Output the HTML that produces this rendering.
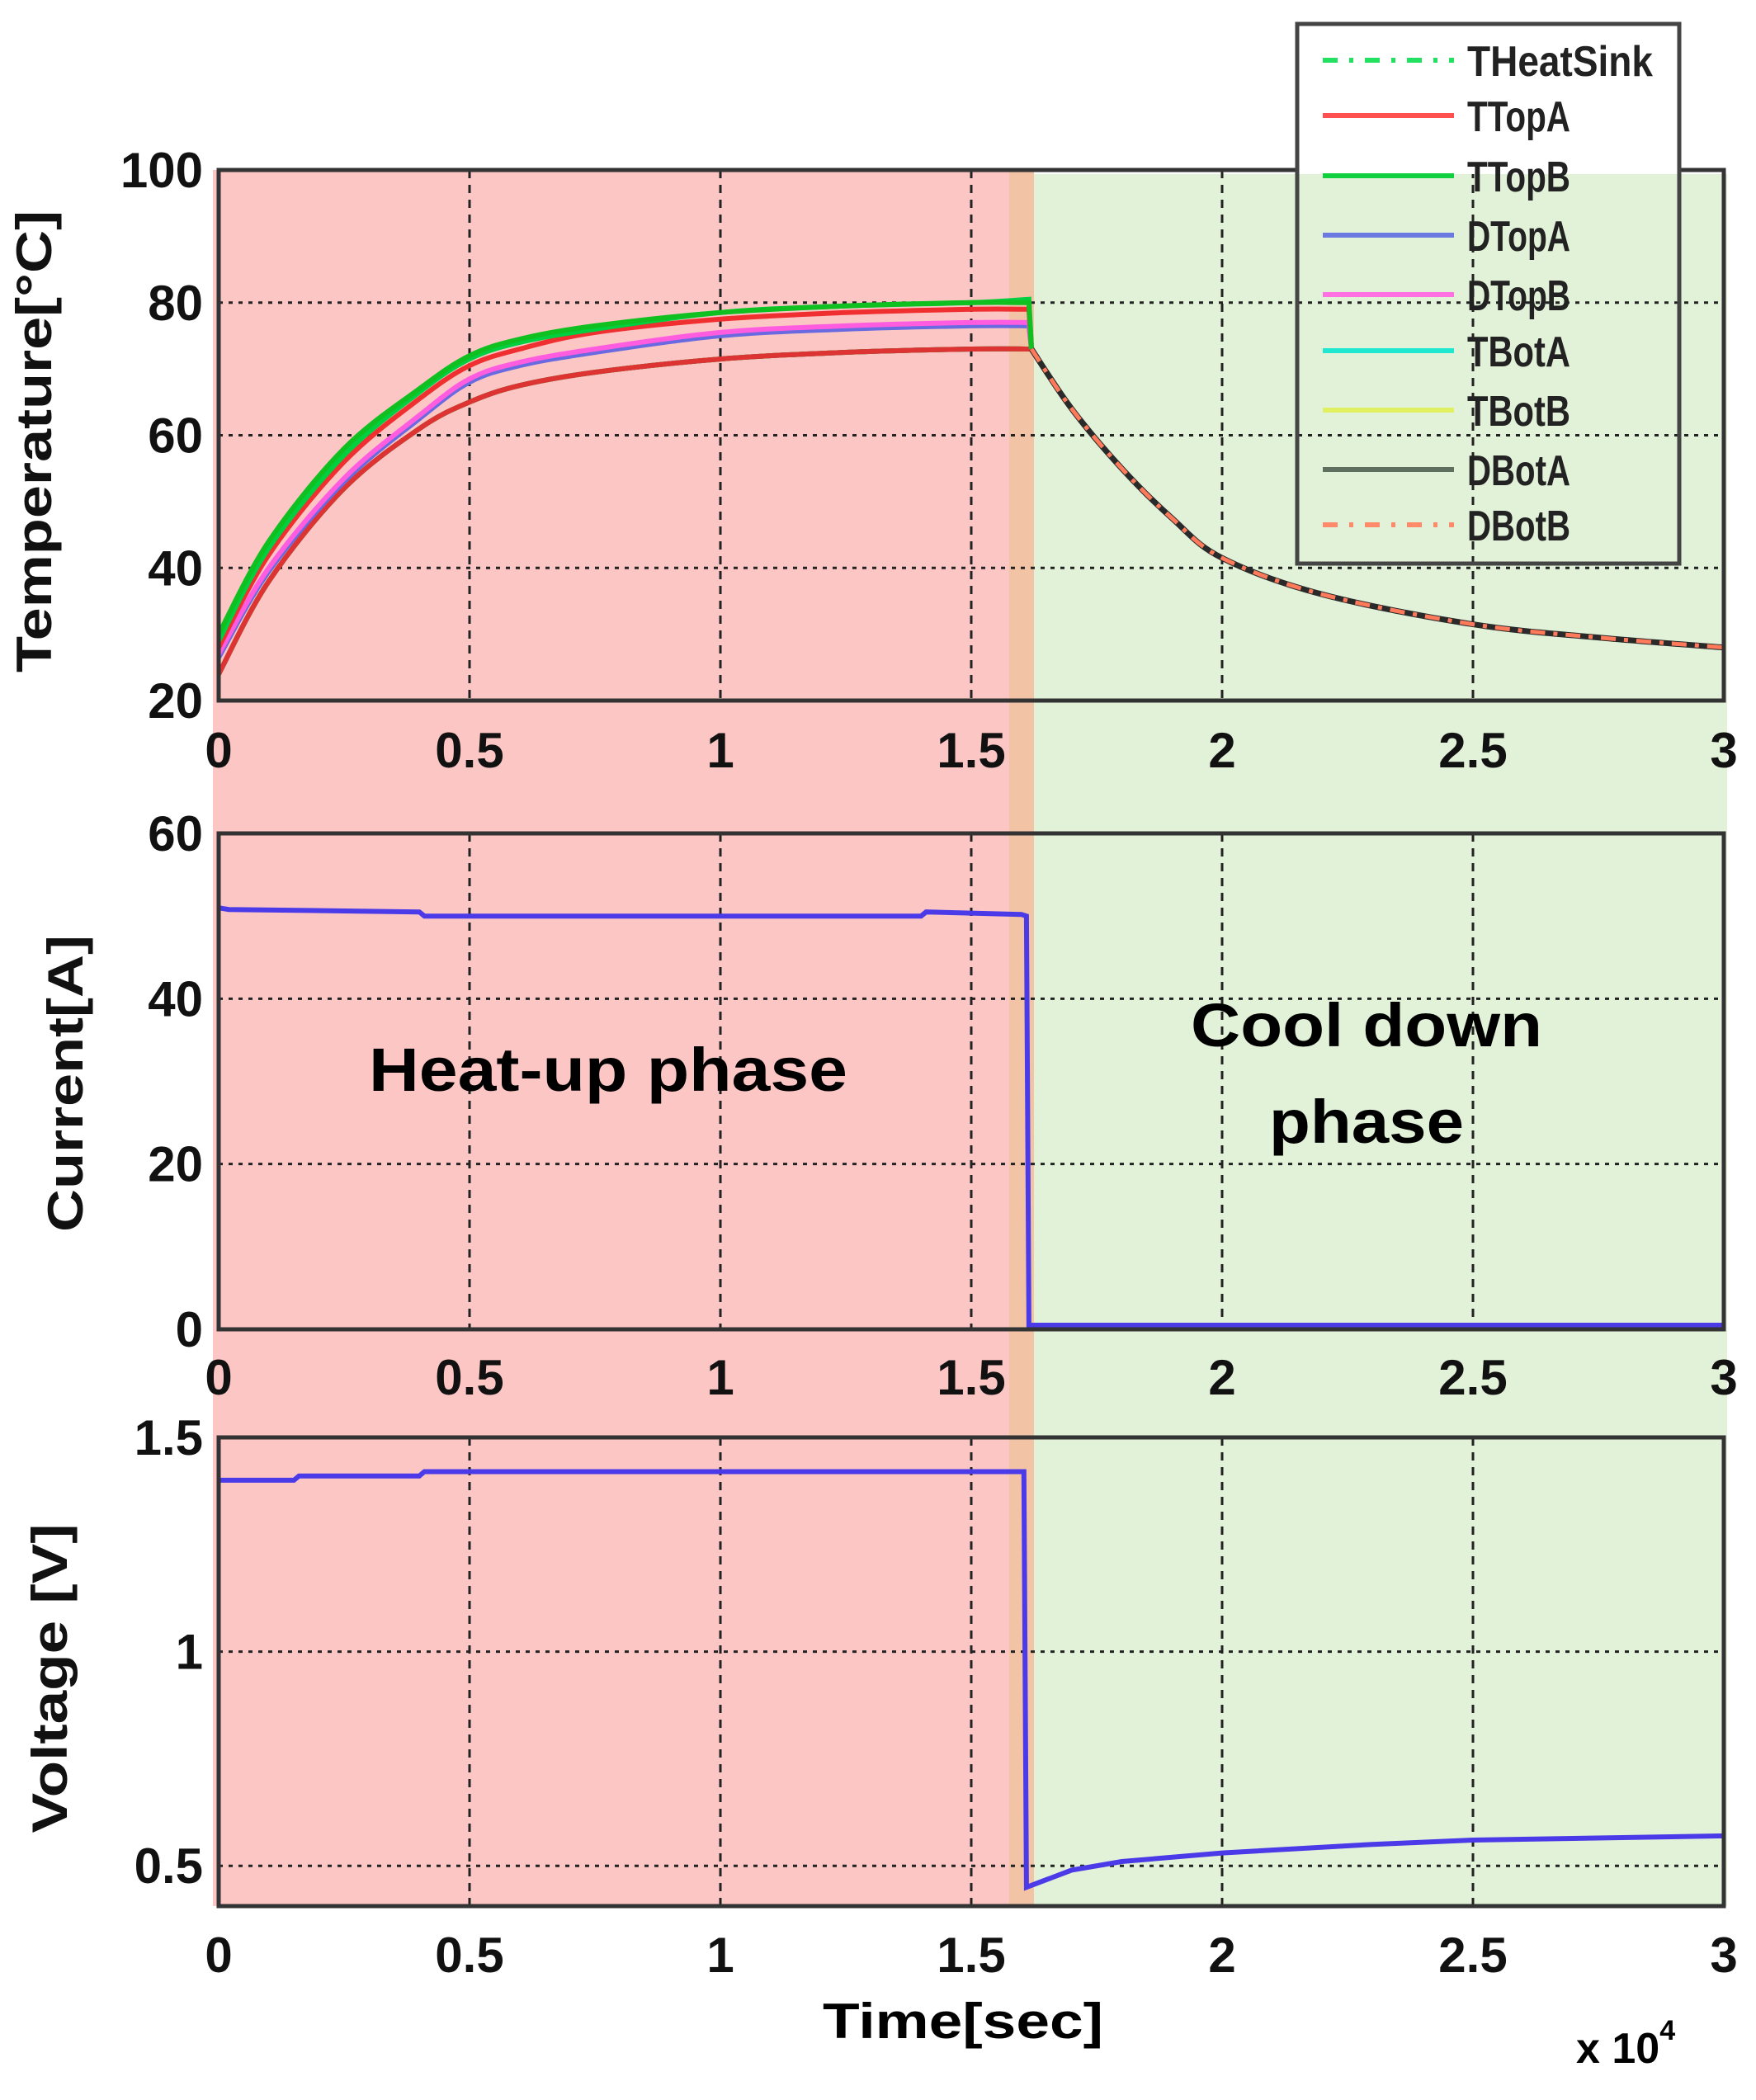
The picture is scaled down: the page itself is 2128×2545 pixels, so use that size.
<!DOCTYPE html>
<html><head><meta charset="utf-8"><style>
html,body{margin:0;padding:0;background:#fff;}
svg{display:block;font-family:"Liberation Sans",sans-serif;font-weight:bold;}
</style></head><body>
<svg id="fig" width="2128" height="2545" viewBox="0 0 2128 2545" xmlns="http://www.w3.org/2000/svg">
<g id="bg"></g>
<g id="plots"></g>
<g id="annot">
<text x="737" y="1322" font-size="74" text-anchor="middle" textLength="580" lengthAdjust="spacingAndGlyphs">Heat-up phase</text>
<text x="1656" y="1268" font-size="74" text-anchor="middle" textLength="426" lengthAdjust="spacingAndGlyphs">Cool down</text>
<text x="1656" y="1385" font-size="74" text-anchor="middle" textLength="236" lengthAdjust="spacingAndGlyphs">phase</text>
<text x="1167" y="2470" font-size="60" text-anchor="middle" textLength="340" lengthAdjust="spacingAndGlyphs">Time[sec]</text>
<text x="1910" y="2500" font-size="52">x 10<tspan font-size="34" dy="-28">4</tspan></text>
</g>
<g id="legend"></g>
</svg>
<script>
// ---- data ----
const timeHeat = [0, 0.1, 0.25, 0.4, 0.5, 0.6, 0.75, 1.0, 1.25, 1.5, 1.615];
const tTopB = [30, 44, 58, 67, 72, 74.5, 76.5, 78.5, 79.5, 80, 80];
const tHeatSink = [29, 43, 57, 66.5, 71.5, 74, 76, 78.5, 79.5, 80, 80.5];
const tTopA = [28, 42, 56, 65.5, 70.5, 73, 75.5, 77.5, 78.5, 79, 79];
const dTopB = [27, 40, 53.5, 63, 68.5, 71, 73, 75.5, 76.5, 77, 77];
const dTopA = [26.5, 39.5, 53, 62.5, 68, 70.5, 72.5, 75, 76, 76.5, 76.5];
const dBotA = [24, 38, 52, 61, 65, 67.5, 69.5, 71.5, 72.5, 73, 73];
const timeCool = [1.62, 1.7, 1.8, 1.9, 2.0, 2.2, 2.5, 2.75, 3.0];
const tCool = [73, 64, 55, 47.5, 41.5, 36, 31.5, 29.5, 28];
const timeI = [0, 0.02, 0.4, 0.41, 1.4, 1.41, 1.6, 1.61, 1.615, 3.0];
const current = [51, 50.8, 50.5, 50, 50, 50.5, 50.2, 50, 0.5, 0.5];
const timeV = [0, 0.15, 0.16, 0.4, 0.41, 1.6, 1.605, 1.61, 1.7, 1.8, 2.0, 2.3, 2.5, 3.0];
const voltage = [1.40, 1.40, 1.41, 1.41, 1.42, 1.42, 1.42, 0.45, 0.49, 0.51, 0.53, 0.55, 0.56, 0.57];
const xTicks = ["0","0.5","1","1.5","2","2.5","3"];
const tempTicks = ["20","40","60","80","100"];
const curTicks = ["0","20","40","60"];
const voltTicks = ["0.5","1","1.5"];
const legendNames = ["THeatSink","TTopA","TTopB","DTopA","DTopB","TBotA","TBotB","DBotA","DBotB"];

const NS = "http://www.w3.org/2000/svg";
function mk(tag, attrs, parent){const e=document.createElementNS(NS,tag);for(const k in attrs)e.setAttribute(k,attrs[k]);parent.appendChild(e);return e;}
const L=265, R=2089;
const xs = t => L + (t/3)*(R-L);
const panels = {
  temp:{top:206,bot:849,min:20,max:100},
  cur:{top:1010,bot:1611,min:0,max:60},
  volt:{top:1742,bot:2310,min:0.406,max:1.5}
};
const ys = (p,v)=> p.bot - (v-p.min)/(p.max-p.min)*(p.bot-p.top);

const bg=document.getElementById('bg');
let r=mk('rect',{x:258,y:206,width:xs(1.575)-258,height:2310-206,fill:'#fcc6c5'},bg);

r=mk('rect',{x:xs(1.575),y:206,width:xs(1.625)-xs(1.575),height:2310-206,fill:'#f2c3a4'},bg);

r=mk('rect',{x:xs(1.625),y:211,width:R+4-xs(1.625),height:2310-211,fill:'#e1f2d9'},bg);


const plots=document.getElementById('plots');
function path(ts,vs,p){return ts.map((t,i)=>(i?'L':'M')+xs(t).toFixed(1)+','+ys(p,vs[i]).toFixed(1)).join(' ');}
function smoothPath(ts,vs,p){
  const pts=ts.map((t,i)=>[xs(t),ys(p,vs[i])]);
  let d='M'+pts[0][0].toFixed(1)+','+pts[0][1].toFixed(1);
  for(let i=0;i<pts.length-1;i++){
    const p0=pts[Math.max(0,i-1)],p1=pts[i],p2=pts[i+1],p3=pts[Math.min(pts.length-1,i+2)];
    const c1=[p1[0]+(p2[0]-p0[0])/6,p1[1]+(p2[1]-p0[1])/6];
    const c2=[p2[0]-(p3[0]-p1[0])/6,p2[1]-(p3[1]-p1[1])/6];
    d+=' C'+c1.map(v=>v.toFixed(1))+' '+c2.map(v=>v.toFixed(1))+' '+p2[0].toFixed(1)+','+p2[1].toFixed(1);
  }
  return d;
}
function axes(p,ticks,name,title,titleX,titleY,titleLen,xLabelY){
  const g=mk('g',{},plots);
  
  ticks.forEach(tk=>{const y=ys(p,parseFloat(tk));
    if(y>p.top+2&&y<p.bot-2){const gl=mk('line',{x1:L,x2:R,y1:y,y2:y,stroke:'#222','stroke-width':3,'stroke-dasharray':'5 7'},g);
      }
    const t=mk('text',{x:246,y:y+21,'font-size':60,'text-anchor':'end',fill:'#111'},g);t.textContent=tk;
    
  });
  xTicks.forEach(tk=>{const x=xs(parseFloat(tk));
    if(x>L+2&&x<R-2){const gl=mk('line',{x1:x,x2:x,y1:p.top,y2:p.bot,stroke:'#222','stroke-width':3,'stroke-dasharray':'10 8'},g);
      }
    const t=mk('text',{x:x,y:xLabelY,'font-size':60,'text-anchor':'middle',fill:'#111'},g);t.textContent=tk;
    
  });
  const tt=mk('text',{x:titleX,y:titleY,'font-size':60,'text-anchor':'middle',textLength:titleLen,lengthAdjust:'spacingAndGlyphs',transform:`rotate(-90 ${titleX} ${titleY})`,fill:'#111'},g);
  tt.textContent=title;
  return g;
}
function box(p,name){const b=mk('rect',{x:L,y:p.top,width:R-L,height:p.bot-p.top,fill:'none',stroke:'#333','stroke-width':5},plots);
  }

const P=panels.temp;
axes(P,tempTicks,'temperature-axes','Temperature[°C]',62,535,560,930);
const series=[
 [dBotA,'#2a2a2a','dbota-line'],[dBotA,'#1dc41d','tbota-line'],[dBotA,'#d33','dbotb-line'],
 [dTopA,'#6a6ae0','dtopa-line'],[dTopB,'#ff5ce0','dtopb-line'],
 [tTopA,'#f03030','ttopa-line'],[tHeatSink,'#00d040','theatsink-line'],[tTopB,'#10c020','ttopb-line']];
series.forEach(s=>{
  const last=timeHeat.length-1;
  const d=smoothPath(timeHeat,s[0],P)+' L'+xs(timeCool[0]).toFixed(1)+','+ys(P,tCool[0]).toFixed(1);
  const e=mk('path',{d:d,fill:'none',stroke:s[1],'stroke-width':6},plots);
  
});
let c=mk('path',{d:smoothPath(timeCool,tCool,P),fill:'none',stroke:'#2a2a2a','stroke-width':7},plots);

c=mk('path',{d:smoothPath(timeCool,tCool,P),fill:'none',stroke:'#ff7a5a','stroke-width':5,'stroke-dasharray':'18 10 5 10'},plots);

box(P,'temperature-plot-frame');

const C=panels.cur;
axes(C,curTicks,'current-axes','Current[A]',100,1313,360,1690);
c=mk('path',{d:path(timeI,current,C),fill:'none',stroke:'#4a3ae8','stroke-width':6},plots);

box(C,'current-plot-frame');

const V=panels.volt;
axes(V,voltTicks,'voltage-axes','Voltage [V]',81,2034,375,2390);
c=mk('path',{d:path(timeV,voltage,V),fill:'none',stroke:'#4a3ae8','stroke-width':6},plots);

box(V,'voltage-plot-frame');

const lg=document.getElementById('legend');
let lb=mk('rect',{x:1572,y:29,width:463,height:211-29,fill:'#fff'},lg);

lb=mk('rect',{x:1572,y:29,width:463,height:654,fill:'none',stroke:'#444','stroke-width':5},lg);

const lcol=['#22e060','#ff5050','#10d040','#6a7ae0','#ff70e0','#20e8d0','#e0f060','#607060','#ff8a6a'];
const ldash=['18 14 5 14','','','','','','','','18 14 5 14'];
const ly=[73,140,213,285,357,425,497,569,636];
legendNames.forEach((n,i)=>{
  const l=mk('line',{x1:1603,x2:1762,y1:ly[i],y2:ly[i],stroke:lcol[i],'stroke-width':6},lg);
  if(ldash[i])l.setAttribute('stroke-dasharray',ldash[i]);
  
  const t=mk('text',{x:1778,y:ly[i]+19,'font-size':52,fill:'#222'},lg);t.textContent=n;
  t.setAttribute('textLength',String(n.length*25));t.setAttribute('lengthAdjust','spacingAndGlyphs');
  
});
</script>
</body></html>
